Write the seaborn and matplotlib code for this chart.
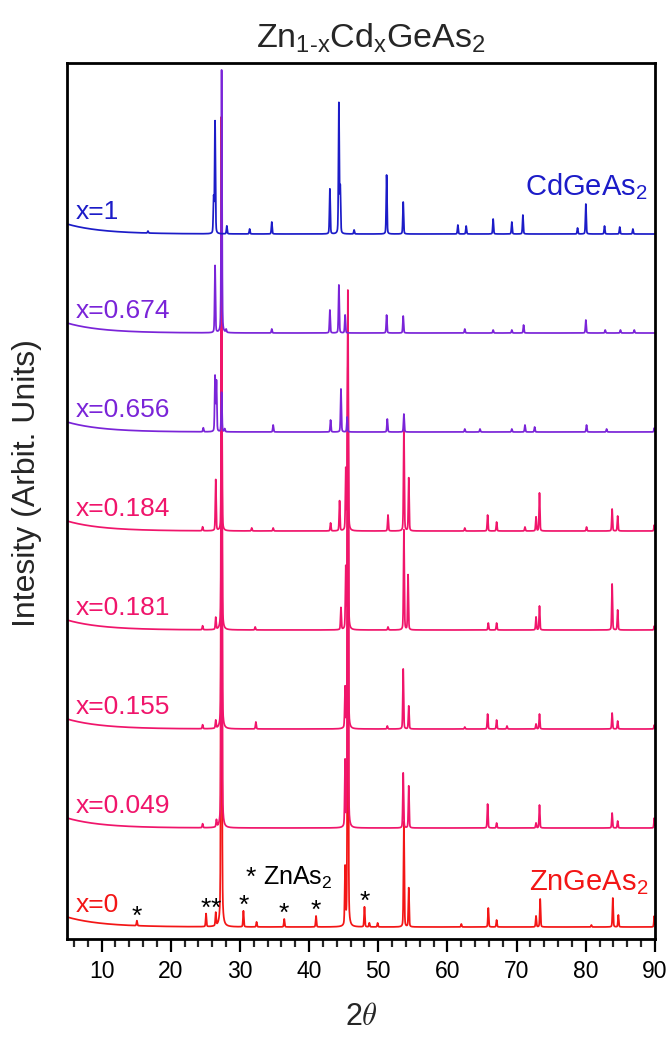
import numpy as np
import pandas as pd
import matplotlib
matplotlib.use("Agg")
import matplotlib.pyplot as plt
import seaborn as sns

# ---- diffraction data: peak positions (2theta, deg) and heights (arb. units) ----
samples = ["x=0", "x=0.049", "x=0.155", "x=0.181", "x=0.184", "x=0.656", "x=0.674", "x=1"]
colors = ["#f31616", "#f0156b", "#f0156b", "#f0156b", "#f0156b", "#7a24d8", "#7a24d8", "#1c1cc8"]

pos_x0 = [15.1, 25.1, 26.5, 27.32, 30.5, 32.4, 36.4, 41.0, 45.2, 45.6, 48.0, 48.7, 49.9,
          53.7, 54.4, 62.0, 65.9, 67.1, 72.8, 73.4, 80.8, 83.9, 84.7, 89.9]
int_x0 = [5, 13, 13, 810, 16, 5, 8, 11, 57, 560, 20, 4, 4,
          105, 39, 3, 19, 7, 11, 28, 2, 29, 12, 11]

pos_x049 = [24.6, 26.6, 27.35, 45.2, 45.6, 53.6, 54.4, 65.8, 67.1, 72.8, 73.3, 83.8, 84.6, 89.9]
int_x049 = [4, 7, 600, 65, 460, 55, 42, 24, 5, 5, 23, 15, 7, 10]

pos_x155 = [24.6, 26.5, 27.35, 32.3, 45.2, 45.6, 51.3, 53.6, 54.4, 62.5, 65.8, 67.1, 68.6,
            72.8, 73.3, 83.8, 84.6, 89.9]
int_x155 = [4, 8, 500, 7, 40, 360, 3, 60, 23, 2, 15, 9, 3, 5, 15, 16, 8, 4]

pos_x181 = [24.6, 26.5, 27.35, 32.2, 44.6, 45.3, 45.6, 51.4, 53.7, 54.3, 65.9, 67.1,
            72.8, 73.3, 83.8, 84.6, 89.9]
int_x181 = [4, 12, 400, 3, 22, 60, 300, 3, 100, 55, 7, 7, 13, 24, 46, 20, 4]

pos_x184 = [24.6, 26.5, 27.35, 31.7, 34.8, 43.1, 44.4, 45.3, 45.6, 51.4, 53.7, 54.4, 62.5,
            65.8, 67.1, 71.2, 72.8, 73.3, 80.1, 83.8, 84.6, 89.9]
int_x184 = [4, 51, 200, 3, 3, 8, 30, 60, 240, 16, 105, 53, 3,
            16, 9, 4, 14, 38, 4, 22, 15, 6]

pos_x656 = [24.7, 26.4, 26.6, 27.35, 27.8, 34.8, 43.1, 44.6, 45.5, 51.3, 53.7, 62.5, 64.7,
            69.3, 71.2, 72.6, 80.1, 83.0, 89.9]
int_x656 = [4, 55, 50, 40, 3, 7, 12, 43, 15, 13, 18, 3, 3, 3, 7, 5, 7, 3, 4]

pos_x674 = [26.4, 27.35, 28.0, 34.6, 43.0, 44.3, 45.2, 51.2, 53.6, 62.5, 66.6, 69.3, 71.0,
            80.0, 82.8, 85.0, 87.0]
int_x674 = [67, 267, 3, 4, 23, 48, 18, 18, 17, 4, 3, 3, 8, 13, 3, 3, 3]

pos_x1 = [16.7, 26.2, 26.4, 28.1, 31.4, 34.6, 43.0, 44.3, 44.5, 46.5, 51.2, 53.6, 61.5,
          62.7, 66.6, 69.3, 70.9, 78.8, 80.0, 82.7, 84.9, 86.8]
int_x1 = [2, 35, 112, 8, 5, 12, 45, 130, 45, 4, 59, 32, 9,
          8, 15, 12, 19, 6, 30, 8, 7, 5]

positions = [pos_x0, pos_x049, pos_x155, pos_x181, pos_x184, pos_x656, pos_x674, pos_x1]
intensities = [int_x0, int_x049, int_x155, int_x181, int_x184, int_x656, int_x674, int_x1]

# impurity (ZnAs2) reflections marked in the x=0 pattern
znas2_pos = [15.1, 25.1, 26.5, 30.5, 36.4, 41.0, 48.0]
znas2_top = [5, 13, 13, 16, 8, 11, 20]

tick_major = [10, 20, 30, 40, 50, 60, 70, 80, 90]

# ---- build the profiles ----
two_theta = np.arange(5.0, 90.001, 0.02)
fwhm = 0.14
low_angle_bg = 10.0


def profile(pos, amp):
    y = low_angle_bg * np.exp(-(two_theta - 5.0) / 5.0)
    hw = fwhm / 2.0
    for p, a in zip(pos, amp):
        lor = hw ** 2 / ((two_theta - p) ** 2 + hw ** 2)
        gau = np.exp(-np.log(2) * ((two_theta - p) / hw) ** 2)
        y = y + a * (0.7 * gau + 0.3 * lor)
    return y


step = 99.0
base = 12.0
frames = []
for i, (name, pos, amp) in enumerate(zip(samples, positions, intensities)):
    frames.append(pd.DataFrame({"two_theta": two_theta,
                                "counts": profile(pos, amp) + base + i * step,
                                "sample": name}))
df = pd.concat(frames, ignore_index=True)

sns.set_theme(style="white")
plt.rcParams["font.family"] = ["Liberation Sans", "DejaVu Sans"]
plt.rcParams["mathtext.fontset"] = "custom"
plt.rcParams["mathtext.rm"] = "Liberation Sans"
plt.rcParams["mathtext.it"] = "Liberation Sans:italic"

fig = plt.figure(figsize=(6.71, 10.38), dpi=100)
ax = fig.add_axes([67 / 671, 99 / 1038, 588 / 671, 876 / 1038])

sns.lineplot(data=df, x="two_theta", y="counts", hue="sample", hue_order=samples,
             palette=dict(zip(samples, colors)), estimator=None, sort=False,
             legend=False, linewidth=1.25, ax=ax)

ax.set_xlim(5, 90)
ax.set_ylim(0, 876)
ax.set_yticks([])
ax.set_xticks(tick_major)
ax.set_xticks(np.arange(6, 90, 2), minor=True)
ax.tick_params(axis="x", which="major", direction="out", length=9, width=1.6,
               labelsize=16.5, pad=6, bottom=True, colors="black")
ax.tick_params(axis="x", which="minor", direction="out", length=5.5, width=1.6, bottom=True)
for s in ax.spines.values():
    s.set_visible(True)
    s.set_color("black")
    s.set_linewidth(2.0)

ax.set_xlabel(r"2$\theta$", fontsize=22, labelpad=14, math_fontfamily="cm")
ax.set_ylabel("Intesity (Arbit. Units)", fontsize=23)
ax.yaxis.set_label_coords(-0.043, 0.52)
ax.set_title(r"Zn$_{\mathrm{1\text{-}x}}$Cd$_{\mathrm{x}}$GeAs$_{\mathrm{2}}$", fontsize=24.5,
             pad=11, x=0.517)

# sample labels on the left
for i, (name, col) in enumerate(zip(samples, colors)):
    ax.text(6.2, base + i * step + low_angle_bg + 5, name, color=col, fontsize=19,
            ha="left", va="baseline")

ax.text(89.0, base + 7 * step + 39, r"CdGeAs$_2$", color=colors[-1], fontsize=21,
        ha="right", va="baseline")
ax.text(89.0, 49, r"ZnGeAs$_2$", color=colors[0], fontsize=21, ha="right", va="baseline")
ax.text(33.3, 54, r"ZnAs$_2$", color="black", fontsize=18, ha="left", va="baseline")
ax.text(31.6, 54, "*", color="black", fontsize=19, ha="center", va="baseline")

for p, h in zip(znas2_pos, znas2_top):
    ax.annotate("*", xy=(p, base + h), xytext=(0, -5), textcoords="offset points",
                ha="center", va="bottom", fontsize=19, color="black")

fig.savefig("out.png", dpi=100)
